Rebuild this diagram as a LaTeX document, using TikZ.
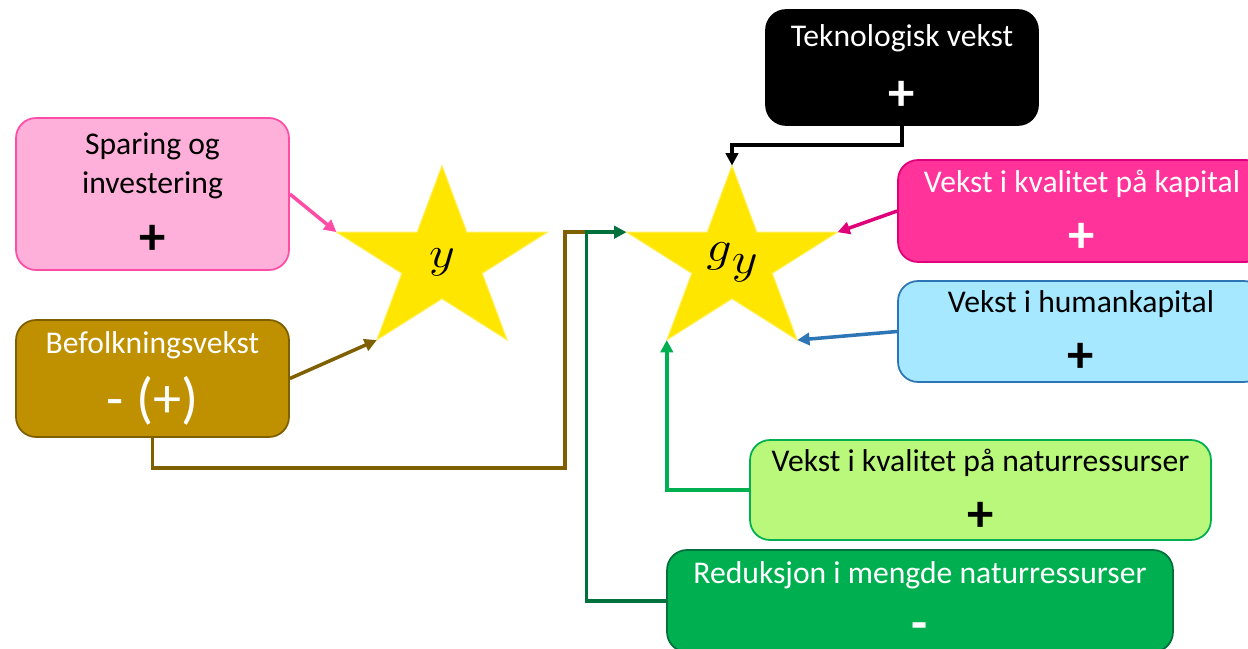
\documentclass[tikz,border=0pt]{standalone}
\usepackage{fontspec}
\setmainfont{Carlito}
\usepackage{tikz}
\usetikzlibrary{shapes.geometric, arrows.meta, positioning, calc}

\definecolor{sparFill}{HTML}{FFB0DA}
\definecolor{sparLine}{HTML}{FF4DA6}
\definecolor{befFill}{HTML}{BF9000}
\definecolor{befLine}{HTML}{7F6000}
\definecolor{kapFill}{HTML}{FF3399}
\definecolor{kapLine}{HTML}{E0007A}
\definecolor{humFill}{HTML}{A6E8FF}
\definecolor{humLine}{HTML}{2E75B6}
\definecolor{natFill}{HTML}{B9F87B}
\definecolor{natLine}{HTML}{00B050}
\definecolor{redFill}{HTML}{00B050}
\definecolor{redLine}{HTML}{00703C}
\definecolor{starFill}{HTML}{FFE600}

\newcommand{\tegn}[1]{{\fontsize{30}{30}\selectfont\bfseries #1}}

\tikzset{
	box/.style={draw, rounded corners=0.4cm, line width=1pt, align=center, inner sep=0pt,
		font=\fontsize{18}{22}\selectfont},
	stjerne/.style={star, star points=5, star point ratio=2.618, fill=starFill,
		draw=starFill!60!white, line width=0.6pt, minimum size=3.86cm, inner sep=0pt, outer sep=0pt,
		xscale=1.15, transform shape, font=\fontsize{34}{34}\selectfont},
	pil/.style={line width=2pt, -{Triangle[length=7pt,width=7pt]}},
	linje/.style={line width=2pt}
}

\begin{document}
\begin{tikzpicture}[x=0.02cm, y=-0.02cm]
	\useasboundingbox (0,0) rectangle (1248,649);
	\clip (0,0) rectangle (1248,649);

	\node[box, fill=sparFill, draw=sparLine, minimum width=5.46cm, minimum height=3.04cm] (spar) at (152.5,194) {Sparing og\\investering\\[13pt]\tegn{+}};
	\node[box, fill=befFill, draw=befLine, text=white, minimum width=5.46cm, minimum height=2.34cm] (befolk) at (152.5,378.5) {Befolkningsvekst\\[9pt]{\fontsize{32}{32}\selectfont - (+)}};
	\node[box, fill=black, draw=black, text=white, minimum width=5.44cm, minimum height=2.3cm] (tek) at (902,67.5) {Teknologisk vekst\\[14pt]\tegn{+}};
	\node[box, fill=kapFill, draw=kapLine, text=white, minimum width=7.36cm, minimum height=2.04cm] (kapital) at (1082,211) {Vekst i kvalitet på kapital\\[12pt]\tegn{+}};
	\node[box, fill=humFill, draw=humLine, minimum width=7.32cm, minimum height=2.02cm] (human) at (1081,331.5) {Vekst i humankapital\\[12pt]\tegn{+}};
	\node[box, fill=natFill, draw=natLine, minimum width=9.22cm, minimum height=2cm] (natur) at (980.5,490) {Vekst i kvalitet på naturressurser\\[12pt]\tegn{+}};
	\node[box, fill=redFill, draw=redLine, text=white, minimum width=10.12cm, minimum height=2.04cm] (reduk) at (920,601) {Reduksjon i mengde naturressurser\\[10pt]\tegn{-}};

	\node[stjerne] (ystar) at (442,262) {\raisebox{-8pt}{$y$}};
	\node[stjerne] (gstar) at (732,262) {\raisebox{-6pt}{$g$\raisebox{-7pt}{\fontsize{26}{26}\selectfont$y$}}};

	\coordinate (trunk) at ($(gstar.outer point 2)+(-40,0)$);
	\coordinate (lowbend) at (565,468);

	% pilene inn mot y
	\draw[pil, sparLine] (spar.east) -- (ystar.outer point 2);
	\draw[pil, befLine] (befolk.east) -- (ystar.outer point 3);
	\draw[linje, befLine] (befolk.south) |- (lowbend) |- (trunk);

	% pilene inn mot g_y
	\draw[pil, redLine] (reduk.west) -| (trunk) -- (gstar.outer point 2);
	\draw[pil, black] (tek.south) -- ++(0,19) -| (gstar.outer point 1);
	\draw[pil, kapLine] (kapital.west) -- (gstar.outer point 5);
	\draw[pil, humLine] (human.west) -- (gstar.outer point 4);
	\draw[pil, natLine] (natur.west) -| (gstar.outer point 3);
\end{tikzpicture}
\end{document}
